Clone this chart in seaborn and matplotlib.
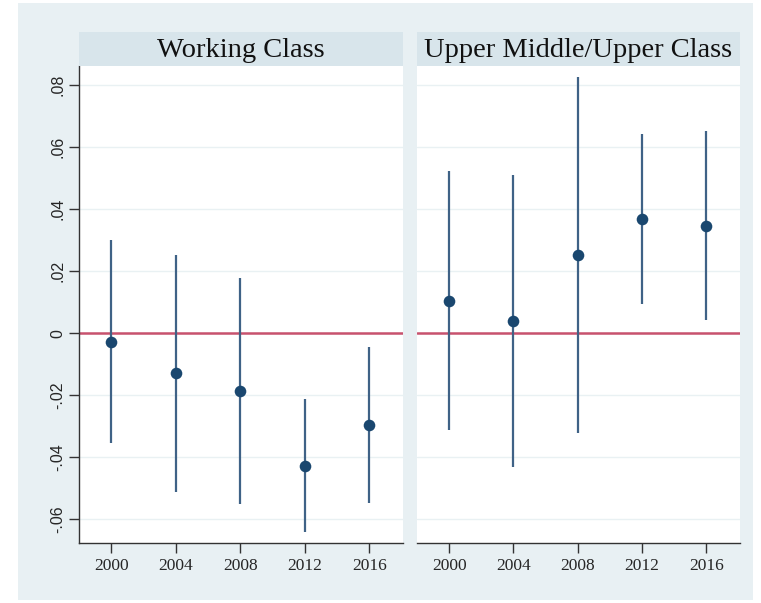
import numpy as np
import pandas as pd
import matplotlib
matplotlib.use("Agg")
import matplotlib.pyplot as plt
import seaborn as sns
from matplotlib.patches import Rectangle

years = [2000, 2004, 2008, 2012, 2016]
panels = ["Working Class", "Upper Middle/Upper Class"]

wc_coef = [-0.0027, -0.0128, -0.0186, -0.0427, -0.0295]
wc_lo = [-0.0353, -0.0511, -0.0550, -0.0640, -0.0546]
wc_hi = [0.0300, 0.0253, 0.0178, -0.0212, -0.0043]

uc_coef = [0.0104, 0.0040, 0.0253, 0.0369, 0.0347]
uc_lo = [-0.0312, -0.0430, -0.0320, 0.0095, 0.0043]
uc_hi = [0.0524, 0.0511, 0.0826, 0.0643, 0.0654]

yticks = [-0.06, -0.04, -0.02, 0, 0.02, 0.04, 0.06, 0.08]
ytick_labels = ["-.06", "-.04", "-.02", "0", ".02", ".04", ".06", ".08"]

df = pd.concat([
    pd.DataFrame({"panel": panels[0], "year": years, "coef": wc_coef, "lo": wc_lo, "hi": wc_hi}),
    pd.DataFrame({"panel": panels[1], "year": years, "coef": uc_coef, "lo": uc_lo, "hi": uc_hi}),
])

sns.set_style("white")
BG = "#e8f0f3"
STRIP = "#d8e5eb"
NAVY = "#1a476f"
CI = "#3f6286"
RED = "#c8526e"
GRID = "#e9f1f3"

W, H = 761, 603
fig = plt.figure(figsize=(W / 100, H / 100), dpi=100, facecolor="white")
fig.patches.append(Rectangle((18 / W, 1 - 600 / H), (753 - 18) / W, (600 - 3) / H,
                             transform=fig.transFigure, facecolor=BG, edgecolor="none", zorder=-10))

lefts = [79, 417]
rights = [403, 740]
ax_top, ax_bot = 66, 543
strip_top = 32

for i, name in enumerate(panels):
    l, r = lefts[i], rights[i]
    ax = fig.add_axes([l / W, 1 - ax_bot / H, (r - l) / W, (ax_bot - ax_top) / H])
    ax.set_facecolor("white")
    sub = df[df["panel"] == name]
    for yv in yticks:
        ax.axhline(yv, color=GRID, lw=1, zorder=0)
    ax.axhline(0, color=RED, lw=1.8, zorder=1)
    ax.vlines(sub["year"], sub["lo"], sub["hi"], color=CI, lw=1.6, zorder=2)
    sns.scatterplot(data=sub, x="year", y="coef", ax=ax, color=NAVY, s=70,
                    edgecolor=NAVY, linewidth=0, zorder=3, legend=False)
    ax.set_xlim(1998, 2018.1)
    ax.set_ylim(-0.0676, 0.0862)
    ax.set_xticks(years)
    ax.set_xticklabels([str(y) for y in years], fontfamily="Liberation Serif", fontsize=12.5)
    ax.set_xlabel("")
    ax.set_ylabel("")
    ax.tick_params(axis="x", length=7, width=1, color="#333333", pad=4, bottom=True)
    for s in ["top", "right"]:
        ax.spines[s].set_visible(False)
    ax.spines["bottom"].set_color("#333333")
    ax.spines["bottom"].set_linewidth(1)
    if i == 0:
        ax.set_yticks(yticks)
        ax.set_yticklabels(ytick_labels, rotation=90, va="center",
                           fontfamily="Liberation Sans", fontsize=11.5)
        ax.tick_params(axis="y", length=7, width=1, color="#333333", pad=3, left=True)
        ax.spines["left"].set_color("#333333")
        ax.spines["left"].set_linewidth(1)
    else:
        ax.set_yticks(yticks)
        ax.set_yticklabels([])
        ax.tick_params(axis="y", length=0, left=False)
        ax.spines["left"].set_visible(False)

    sax = fig.add_axes([l / W, 1 - ax_top / H, (r - l) / W, (ax_top - strip_top) / H])
    sax.set_facecolor(STRIP)
    sax.set_xticks([])
    sax.set_yticks([])
    for s in sax.spines.values():
        s.set_visible(False)
    sax.text(0.5, 0.45, name, ha="center", va="center", fontfamily="Liberation Serif",
             fontsize=20.5, color="#111111", transform=sax.transAxes)

fig.savefig("out.png", dpi=100, facecolor="white")
